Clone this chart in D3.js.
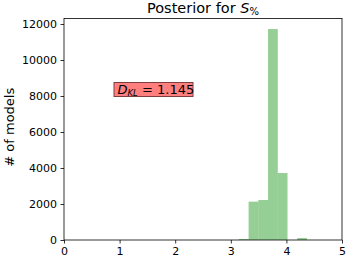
<!DOCTYPE html>
<html>
<head>
<meta charset="utf-8">
<script src="https://cdn.jsdelivr.net/npm/d3@7"></script>
<style>
  body { margin: 0; background: #fff; }
  text { font-family: "DejaVu Sans", sans-serif; fill: #000; }
</style>
</head>
<body>
<div id="chart"></div>
<script>
// histogram bins (left edges) and counts
const binStarts = [3.145, 3.32, 3.495, 3.67, 3.845, 4.02, 4.195];
const binWidth = 0.175;
const counts = [55, 2130, 2220, 11720, 3720, 0, 110];
const xTicks = [0, 1, 2, 3, 4, 5];
const yTicks = [0, 2000, 4000, 6000, 8000, 10000, 12000];
const dklValue = "1.145";

let margin = { top: 18.5, right: 4, bottom: 17, left: 64 },
    width = 346 - margin.left - margin.right,
    height = 257 - margin.top - margin.bottom;

let svg = d3.select("#chart")
    .append("svg")
    .attr("width", 346)
    .attr("height", 257)
    .append("g")
    .attr("transform", "translate(" + margin.left + "," + margin.top + ")");

let xScale = d3.scaleLinear().domain([0, 5]).range([0, width]);
let yScale = d3.scaleLinear().domain([0, 12306]).range([height, 0]);

// bars
svg.selectAll("rect.bar")
    .data(binStarts.map((s, i) => ({ x0: s, x1: s + binWidth, n: counts[i] })))
    .enter()
    .append("rect")
    .attr("class", "bar")
    .attr("x", d => xScale(d.x0))
    .attr("width", d => xScale(d.x1) - xScale(d.x0))
    .attr("y", d => yScale(d.n))
    .attr("height", d => height - yScale(d.n))
    .attr("fill", "#2ca02c")
    .attr("fill-opacity", 0.5);

// axes
let xAxis = svg.append("g")
    .attr("transform", "translate(0," + height + ")")
    .call(d3.axisBottom(xScale).tickValues(xTicks).tickSize(3.5).tickPadding(3.5).tickFormat(d3.format("d")));
let yAxis = svg.append("g")
    .call(d3.axisLeft(yScale).tickValues(yTicks).tickSize(3.5).tickPadding(3.5).tickFormat(d3.format("d")));
[xAxis, yAxis].forEach(a => {
    a.select(".domain").remove();
    a.selectAll("text").attr("font-size", "11px").attr("font-family", "DejaVu Sans");
    a.selectAll("line").attr("stroke", "#000").attr("stroke-width", 0.8);
});

// frame
svg.append("rect")
    .attr("width", width)
    .attr("height", height)
    .attr("fill", "none")
    .attr("stroke", "#000")
    .attr("stroke-width", 0.8);

// title
let title = svg.append("text")
    .attr("x", width / 2)
    .attr("y", -5.5)
    .attr("text-anchor", "middle")
    .attr("font-size", "14.5px");
title.append("tspan").text("Posterior for ");
title.append("tspan").attr("font-style", "italic").text("S");
title.append("tspan").attr("font-size", "10px").attr("dy", 2).text("%");

// y label
svg.append("text")
    .attr("transform", "rotate(-90)")
    .attr("x", -height / 2 + 2)
    .attr("y", -margin.left + 14)
    .attr("text-anchor", "middle")
    .attr("font-size", "13px")
    .text("# of models");

// D_KL box
let box = svg.append("g")
    .attr("transform", "translate(" + (114 - margin.left) + "," + (82.5 - margin.top) + ")");
box.append("rect")
    .attr("width", 79)
    .attr("height", 14)
    .attr("fill", "#ff7f7f")
    .attr("stroke", "#7f3f3f")
    .attr("stroke-width", 1);
let lbl = box.append("text")
    .attr("x", 3.5)
    .attr("y", 11.5)
    .attr("font-size", "13px");
lbl.append("tspan").attr("font-style", "italic").text("D");
lbl.append("tspan").attr("font-style", "italic").attr("font-size", "8.5px").attr("dy", 2).text("KL");
lbl.append("tspan").attr("dy", -2).text(" = " + dklValue);
</script>
</body>
</html>
